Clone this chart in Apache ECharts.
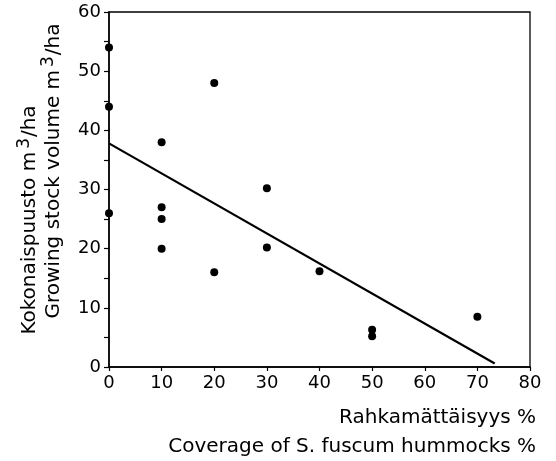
<!DOCTYPE html>
<html>
<head>
<meta charset="utf-8">
<script src="https://cdn.jsdelivr.net/npm/echarts@6/dist/echarts.min.js"></script>
<style>html,body{margin:0;padding:0;background:#fff;}#c{width:556px;height:461px;}</style>
</head>
<body>
<div id="c"></div>
<script>
// Data
const coverage = [0, 0, 0, 10, 10, 10, 10, 20, 20, 30, 30, 40, 50, 50, 70];
const volume   = [54, 44, 26, 38, 27, 25, 20, 48, 16, 30.2, 20.2, 16.2, 6.3, 5.2, 8.5];
const fitX = [0, 73.3];
const fitY = [37.8, 0.6];
const xTicks = [0, 10, 20, 30, 40, 50, 60, 70, 80];
const yTicks = [0, 10, 20, 30, 40, 50, 60];

const FONT = 'DejaVu Sans';
const chart = echarts.init(document.getElementById('c'), null, {renderer: 'canvas'});
const scatterData = coverage.map((x, i) => [x, volume[i]]);
const lineData = fitX.map((x, i) => [x, fitY[i]]);

const supRich = {
  a: {fontFamily: FONT, fontSize: 20, color: '#000'},
  s: {fontFamily: FONT, fontSize: 17, color: '#000', padding: [0, 1, 11, 3]}
};

chart.setOption({
  animation: false,
  backgroundColor: '#fff',
  grid: {left: 109, right: 26, top: 12, bottom: 94, show: true, borderColor: '#000', borderWidth: 1.3, containLabel: false},
  xAxis: {
    type: 'value', min: xTicks[0], max: xTicks[xTicks.length - 1], interval: 10,
    axisLine: {show: true, lineStyle: {color: '#000', width: 1.5}},
    axisTick: {show: true, inside: false, length: 4, lineStyle: {color: '#000', width: 1.2}},
    axisLabel: {color: '#000', fontFamily: FONT, fontSize: 18, margin: 7},
    splitLine: {show: false}
  },
  yAxis: {
    type: 'value', min: yTicks[0], max: yTicks[yTicks.length - 1], interval: 10,
    axisLine: {show: true, lineStyle: {color: '#000', width: 1.5}},
    axisTick: {show: true, inside: false, length: 5, lineStyle: {color: '#000', width: 1.2}},
    minorTick: {show: true, splitNumber: 2, length: 5, lineStyle: {color: '#000', width: 1.2}},
    axisLabel: {color: '#000', fontFamily: FONT, fontSize: 18, margin: 8},
    splitLine: {show: false}
  },
  series: [
    {type: 'line', data: lineData, showSymbol: false, symbol: 'none',
     lineStyle: {color: '#000', width: 2.2}, z: 2},
    {type: 'scatter', data: scatterData, symbol: 'circle', symbolSize: 8,
     itemStyle: {color: '#000', opacity: 1}, z: 3}
  ],
  graphic: [
    {type: 'text', x: 536, y: 418, style: {text: 'Rahkamättäisyys %', fontFamily: FONT, fontSize: 20, fill: '#000', textAlign: 'right', textVerticalAlign: 'middle'}},
    {type: 'text', x: 536, y: 447, style: {text: 'Coverage of S. fuscum hummocks %', fontFamily: FONT, fontSize: 20, fill: '#000', textAlign: 'right', textVerticalAlign: 'middle'}},
    {type: 'text', x: 30, y: 220, rotation: Math.PI / 2,
     style: {text: '{a|Kokonaispuusto m}{s|3}{a|/ha}', textAlign: 'center', textVerticalAlign: 'middle', rich: supRich}},
    {type: 'text', x: 54, y: 171, rotation: Math.PI / 2,
     style: {text: '{a|Growing stock volume m}{s|3}{a|/ha}', textAlign: 'center', textVerticalAlign: 'middle', rich: supRich}}
  ]
});
</script>
</body>
</html>
